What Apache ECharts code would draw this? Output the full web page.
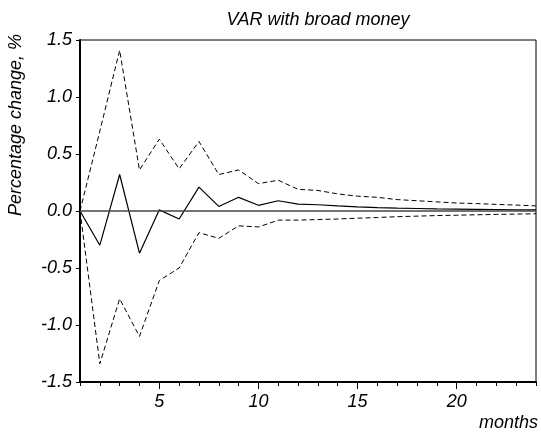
<!DOCTYPE html>
<html>
<head>
<meta charset="utf-8">
<script src="https://cdn.jsdelivr.net/npm/echarts@6/dist/echarts.min.js"></script>
<style>html,body{margin:0;padding:0;background:#fff;}#c{width:541px;height:433px;}</style>
</head>
<body>
<div id="c"></div>
<script>
const months = [1,2,3,4,5,6,7,8,9,10,11,12,13,14,15,16,17,18,19,20,21,22,23,24];
const response = [0, -0.30, 0.32, -0.37, 0.01, -0.07, 0.21, 0.04, 0.12, 0.05, 0.09, 0.06, 0.055, 0.045, 0.037, 0.03, 0.025, 0.022, 0.019, 0.017, 0.015, 0.013, 0.011, 0.01];
const upperBand = [0, 0.70, 1.41, 0.36, 0.63, 0.37, 0.61, 0.32, 0.36, 0.24, 0.27, 0.19, 0.18, 0.15, 0.13, 0.12, 0.10, 0.09, 0.08, 0.07, 0.065, 0.058, 0.052, 0.045];
const lowerBand = [0, -1.34, -0.77, -1.10, -0.61, -0.50, -0.19, -0.24, -0.13, -0.14, -0.08, -0.08, -0.075, -0.07, -0.063, -0.057, -0.05, -0.045, -0.04, -0.037, -0.033, -0.03, -0.027, -0.024];
const xLabelsShown = [5, 10, 15, 20];

const pair = arr => months.map((m, i) => [m, arr[i]]);
const font = '"Liberation Sans", Arial, sans-serif';
const FS = 18;

const chart = echarts.init(document.getElementById('c'), null, {renderer: 'canvas'});
chart.setOption({
  animation: false,
  backgroundColor: '#fff',
  title: {
    text: 'VAR with broad money',
    left: 313, top: 6, textAlign: 'center',
    textStyle: {fontFamily: font, fontStyle: 'italic', fontWeight: 'normal', fontSize: FS, color: '#000'}
  },
  graphic: [{
    type: 'text', x: 16, y: 125, rotation: Math.PI / 2,
    style: {text: 'Percentage change, %', fontFamily: font, fontStyle: 'italic', fontSize: FS, fill: '#000', align: 'center', verticalAlign: 'middle'}
  }],
  grid: {left: 80, right: 5, top: 40, bottom: 51, show: true, borderColor: '#000', borderWidth: 1, backgroundColor: 'transparent'},
  xAxis: [{
    type: 'value', min: 1, max: 24, interval: 1,
    name: 'months', nameLocation: 'end', nameGap: 0,
    nameTextStyle: {fontFamily: font, fontStyle: 'italic', fontSize: FS, color: '#000', align: 'right', verticalAlign: 'top', padding: [32, -2, 0, 0]},
    axisLine: {show: true, onZero: false, lineStyle: {color: '#000', width: 2}},
    axisTick: {show: true, length: 4, lineStyle: {color: '#000', width: 1}},
    splitLine: {show: false},
    axisLabel: {
      fontFamily: font, fontStyle: 'italic', fontSize: FS, color: '#000', margin: 11,
      customValues: xLabelsShown,
      formatter: v => String(v)
    }
  }, {
    type: 'value', min: 1, max: 24, position: 'bottom',
    axisLine: {show: false, onZero: false},
    axisTick: {show: true, length: 7, customValues: xLabelsShown, lineStyle: {color: '#000', width: 1}},
    axisLabel: {show: false},
    splitLine: {show: false}
  }],
  yAxis: {
    type: 'value', min: -1.5, max: 1.5, interval: 0.5,
    axisLine: {show: true, onZero: false, lineStyle: {color: '#000', width: 2}},
    axisTick: {show: true, length: 4, lineStyle: {color: '#000', width: 1}},
    splitLine: {show: false},
    axisLabel: {fontFamily: font, fontStyle: 'italic', fontSize: FS, color: '#000', margin: 8,
      formatter: v => v.toFixed(1)}
  },
  series: [
    {
      type: 'line', data: pair(upperBand), symbol: 'none',
      lineStyle: {color: '#000', width: 1, type: [5, 3]},
      markLine: {silent: true, symbol: 'none', label: {show: false},
        lineStyle: {color: '#444', width: 1.5, type: 'solid'},
        data: [{yAxis: 0}]}
    },
    {
      type: 'line', data: pair(lowerBand), symbol: 'none',
      lineStyle: {color: '#000', width: 1, type: [5, 3]}
    },
    {
      type: 'line', data: pair(response), symbol: 'none',
      lineStyle: {color: '#000', width: 1.2, type: 'solid'}
    }
  ]
});
</script>
</body>
</html>
